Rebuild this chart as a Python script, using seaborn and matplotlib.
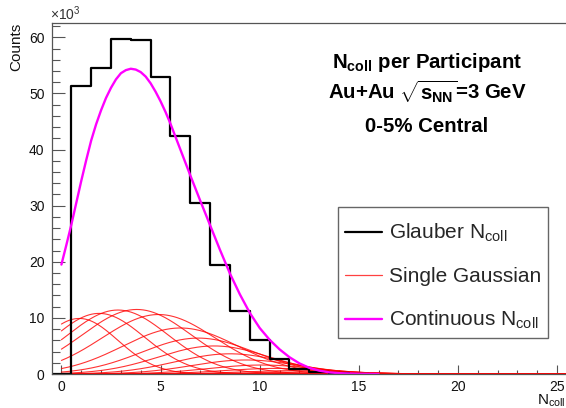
import numpy as np
import pandas as pd
import matplotlib
matplotlib.use("Agg")
import matplotlib.pyplot as plt
from matplotlib.lines import Line2D
from matplotlib.patches import Rectangle
from matplotlib.ticker import MultipleLocator
import seaborn as sns

# ---------------- data (counts in units of 10^3) ----------------
# Glauber Ncoll histogram: bin centres and contents
bin_centers = [0, 1, 2, 3, 4, 5, 6, 7, 8, 9, 10, 11, 12, 13, 14, 15]
glauber_counts = [0.0, 51.3, 54.5, 59.7, 59.5, 53.0, 42.4, 30.4, 19.4,
                  11.2, 6.1, 2.6, 0.9, 0.4, 0.1, 0.0]

# Continuous Ncoll curve
cont_x = [0.0, 0.25, 0.5, 0.75, 1.0, 1.25, 1.5, 1.75, 2.0, 2.25, 2.5, 2.75,
          3.0, 3.25, 3.5, 3.75, 4.0, 4.25, 4.5, 4.75, 5.0, 5.25, 5.5, 6.0,
          6.5, 7.0, 7.5, 8.0, 8.5, 9.0, 9.5, 10.0, 10.5, 11.0, 11.5, 12.0,
          12.5, 13.0, 13.5, 14.0, 15.0, 16.0]
cont_y = [19.5, 23.0, 26.6, 30.5, 34.4, 38.1, 41.6, 44.5, 47.0, 49.2, 51.0,
          52.5, 53.6, 54.15, 54.4, 54.25, 53.8, 53.0, 51.8, 50.3, 48.6,
          46.7, 44.6, 40.0, 35.4, 30.9, 26.5, 22.1, 17.9, 14.2, 10.9, 8.2,
          6.1, 4.4, 3.0, 1.9, 1.1, 0.6, 0.3, 0.15, 0.03, 0.0]

# Single Gaussian components: mean, sigma, amplitude
gauss_mean = [0.9, 1.9, 2.85, 3.8, 4.9, 6.0, 6.9, 7.7, 8.5, 9.3, 10.1,
              10.9, 11.7, 12.5, 13.3, 14.1]
gauss_sigma = [1.95, 2.3, 2.55, 2.75, 2.85, 2.9, 2.85, 2.8, 2.75, 2.7, 2.7,
               2.7, 2.7, 2.7, 2.7, 2.7]
gauss_amp = [9.9, 10.8, 11.4, 11.5, 10.6, 8.2, 6.4, 5.0, 3.6, 2.5, 1.6,
             1.0, 0.6, 0.35, 0.2, 0.1]

x_ticks = [0, 5, 10, 15, 20, 25]
y_ticks = [0, 10, 20, 30, 40, 50, 60]
legend_labels = [r"Glauber $\mathrm{N_{coll}}$", "Single Gaussian",
                 r"Continuous $\mathrm{N_{coll}}$"]
title_lines = [r"$\mathbf{N_{coll}}$ per Participant",
               r"Au+Au $\sqrt{\mathbf{s_{NN}}}$=3 GeV",
               "0-5% Central"]

# ---------------- style ----------------
sns.set_theme(style="ticks")
plt.rcParams["font.family"] = ["Liberation Sans", "DejaVu Sans"]
plt.rcParams["mathtext.fontset"] = "custom"
plt.rcParams["mathtext.rm"] = "Liberation Sans"
plt.rcParams["mathtext.bf"] = "Liberation Sans:bold"
plt.rcParams["mathtext.it"] = "Liberation Sans:italic"
plt.rcParams["mathtext.sf"] = "Liberation Sans"

W, H = 566, 408
fig = plt.figure(figsize=(W / 100, H / 100), dpi=100)
fig.patch.set_facecolor("white")
ax = fig.add_axes([51.5 / W, 1 - 374 / H, 515.5 / W, (374 - 23) / H])
ax.set_facecolor("white")

# Gaussian components
xg = np.linspace(0, 25.5, 600)
rows = []
for i, (m, s, a) in enumerate(zip(gauss_mean, gauss_sigma, gauss_amp)):
    rows.append(pd.DataFrame({"x": xg,
                              "y": a * np.exp(-0.5 * ((xg - m) / s) ** 2),
                              "comp": i}))
gdf = pd.concat(rows, ignore_index=True)
sns.lineplot(data=gdf, x="x", y="y", units="comp", estimator=None,
             color="#ff0000", lw=0.8, alpha=0.8, ax=ax, legend=False)

# Glauber histogram
hdf = pd.DataFrame({"ncoll": bin_centers, "counts": glauber_counts})
sns.histplot(data=hdf, x="ncoll", weights="counts", binwidth=1,
             binrange=(-0.5, 15.5), element="step", fill=False,
             color="black", linewidth=1.6, ax=ax)

# Continuous curve
cdf = pd.DataFrame({"x": cont_x, "y": cont_y})
sns.lineplot(data=cdf, x="x", y="y", color="#ff00ff", lw=1.7, ax=ax,
             legend=False)

ax.set_xlim(-0.5, 25.5)
ax.set_ylim(0, 62.55)
ax.set_xticks(x_ticks)
ax.set_yticks(y_ticks)
ax.set_xticklabels([str(v) for v in x_ticks])
ax.set_yticklabels([str(v) for v in y_ticks])
ax.xaxis.set_minor_locator(MultipleLocator(1))
ax.yaxis.set_minor_locator(MultipleLocator(2))
ax.set_xlabel("")
ax.set_ylabel("")

spc = "#555555"
for side in ["top", "left", "bottom", "right"]:
    ax.spines[side].set_color(spc)
    ax.spines[side].set_linewidth(0.9)
ax.tick_params(axis="y", which="major", direction="in", length=9.4,
               width=0.8, color=spc, labelsize=10, pad=5, labelcolor="#111")
ax.tick_params(axis="y", which="minor", direction="in", length=5.5,
               width=0.8, color=spc)
ax.tick_params(axis="x", which="major", direction="in", length=6.7,
               width=0.8, color=spc, labelsize=10, pad=4.3, labelcolor="#111")
ax.tick_params(axis="x", which="minor", direction="in", length=3.1,
               width=0.8, color=spc)

# legend box (frame drawn separately to match the reference padding)
fig.patches.append(Rectangle((338 / W, 1 - 338 / H), 210 / W, 131 / H,
                             transform=fig.transFigure, facecolor="white",
                             edgecolor="#666666", linewidth=1.0, zorder=5))
handles = [Line2D([], [], color="black", lw=1.6),
           Line2D([], [], color="#ff4040", lw=0.9),
           Line2D([], [], color="#ff00ff", lw=1.7)]
leg = fig.legend(handles, legend_labels, loc="upper left",
                 bbox_to_anchor=(345 / W, 1 - 222 / H),
                 bbox_transform=fig.transFigure, borderaxespad=0,
                 fontsize=15, frameon=False,
                 handlelength=1.78, handletextpad=0.34, labelspacing=1.1,
                 borderpad=0)
leg.set_zorder(6)

# title block
for txt, yb in zip(title_lines, [68.3, 99.3, 131.7]):
    fig.text(427 / W, 1 - yb / H, txt, ha="center", va="baseline",
             fontsize=14.7, fontweight="bold", color="black")

# axis labels
fig.text(16 / W, 1 - 23 / H, "Counts", rotation=90, ha="center", va="top",
         fontsize=11, color="#111")
fig.text(0.999, 1 - 405 / H, r"$\mathrm{N_{coll}}$", ha="right",
         va="baseline", fontsize=11, color="#111")
fig.text(50 / W, 1 - 20 / H, r"$\times$10$^{3}$", ha="left", va="baseline",
         fontsize=10, color="#333")

fig.savefig("out.png", dpi=100)
